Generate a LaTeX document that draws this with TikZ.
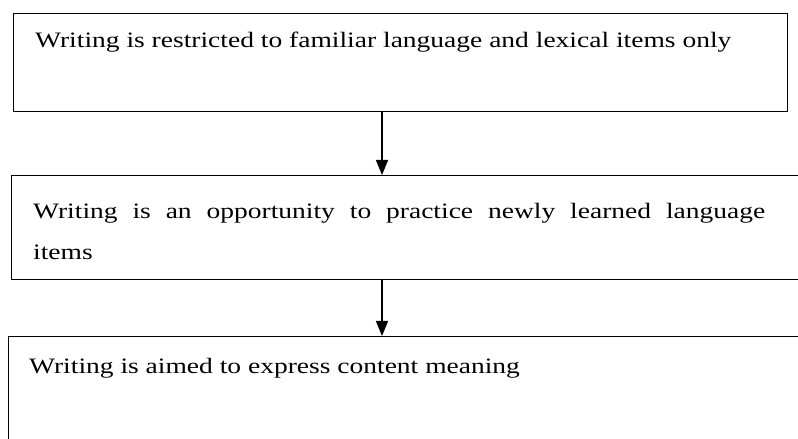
\documentclass[tikz,border=0pt]{standalone}
\usepackage{fontspec}
\setmainfont[FakeStretch=1.25]{Liberation Serif}
\usetikzlibrary{arrows.meta}
\tikzset{
  boxframe/.style={draw=black, line width=1.3bp, rectangle, inner sep=0pt, anchor=north west},
  txt/.style={anchor=base west, inner sep=0pt, font=\fontsize{22bp}{27bp}\selectfont},
  arr/.style={draw=black, line width=1.3bp, -{Triangle[length=15bp,width=12bp]}}
}
\begin{document}
\begin{tikzpicture}[x=1bp,y=-1bp]
\clip (0,0) rectangle (798,439);
\fill[white] (0,0) rectangle (798,439);
\node[boxframe, minimum width=774bp, minimum height=98bp] (b1) at (13,13) {};
\node[boxframe, minimum width=830bp, minimum height=104bp] (b2) at (11,175) {};
\node[boxframe, minimum width=830bp, minimum height=140bp] (b3) at (8,336) {};
\node[txt] (t1) at (35,48) {Writing is restricted to familiar language and lexical items only};
\node[txt] (t2a) at (33,219) {\makebox[732bp][s]{Writing is an opportunity to practice newly learned language}};
\node[txt] (t2b) at (33,260) {items};
\node[txt] (t3) at (29,374) {Writing is aimed to express content meaning};
\path (b1.south west) ++(369,0) coordinate (a1);
\path (b2.south west) ++(371,0) coordinate (a2);
\draw[arr] (a1) -- (a1 |- b2.north);
\draw[arr] (a2) -- (a2 |- b3.north);
\end{tikzpicture}
\end{document}
